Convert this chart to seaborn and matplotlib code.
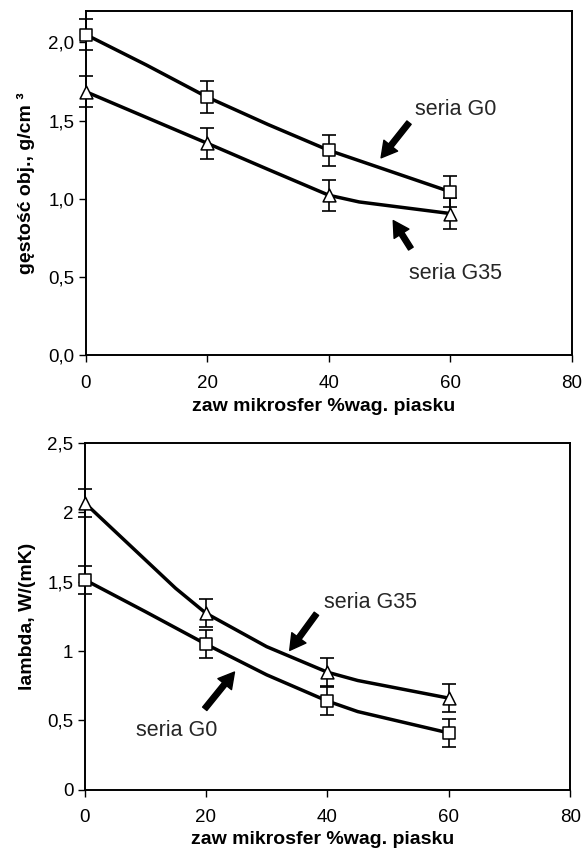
import matplotlib
matplotlib.use("Agg")
import matplotlib.pyplot as plt
import seaborn as sns
import numpy as np
import pandas as pd

# ---- data ----
x_pts = [0, 20, 40, 60]

# top panel: bulk density, g/cm3
dens_g0 = [2.05, 1.65, 1.31, 1.045]
dens_g35 = [1.685, 1.355, 1.023, 0.906]
dens_err = [0.1, 0.1, 0.1, 0.1]
# smoothed curve
dens_curve_x_g0 = [0, 10, 20, 30, 40, 48, 60]
dens_curve_g0 = [2.05, 1.855, 1.65, 1.475, 1.31, 1.204, 1.045]
dens_curve_x_g35 = [0, 10, 20, 30, 40, 45, 60]
dens_curve_g35 = [1.685, 1.52, 1.355, 1.188, 1.023, 0.98, 0.906]

# bottom panel: thermal conductivity, W/(mK)
lam_g0 = [1.515, 1.05, 0.64, 0.41]
lam_g35 = [2.07, 1.273, 0.848, 0.661]
lam_err = [0.1, 0.1, 0.1, 0.1]
lam_curve_x_g0 = [0, 10, 20, 30, 40, 45, 60]
lam_curve_g0 = [1.515, 1.285, 1.05, 0.829, 0.64, 0.564, 0.41]
lam_curve_x_g35 = [0, 15, 20, 30, 40, 45, 60]
lam_curve_g35 = [2.07, 1.453, 1.273, 1.032, 0.848, 0.788, 0.661]

x_ticks = [0, 20, 40, 60, 80]
x_ticklabels = ["0", "20", "40", "60", "80"]
dens_ticks = [0.0, 0.5, 1.0, 1.5, 2.0]
dens_ticklabels = ["0,0", "0,5", "1,0", "1,5", "2,0"]
lam_ticks = [0, 0.5, 1.0, 1.5, 2.0, 2.5]
lam_ticklabels = ["0", "0,5", "1", "1,5", "2", "2,5"]

xlabel = "zaw mikrosfer %wag. piasku"
dens_ylabel = "gęstość obj., g/cm ³"
lam_ylabel = "lambda, W/(mK)"

sns.set_theme(style="white")
plt.rcParams["font.family"] = ["Liberation Sans", "DejaVu Sans"]

fig = plt.figure(figsize=(5.83, 8.52), dpi=100)
ax1 = fig.add_axes([0.147, 0.583, 0.834, 0.404])
ax2 = fig.add_axes([0.145, 0.073, 0.833, 0.407])

LW = 2.5
TICK_FS = 13.5
LABEL_FS = 14
ANN_FS = 15.5


def draw(ax, cx0, cy0, cx1, cy1, y0, y1, err):
    sns.lineplot(x=cx0, y=cy0, ax=ax, color="black", lw=LW, sort=False, zorder=2)
    sns.lineplot(x=cx1, y=cy1, ax=ax, color="black", lw=LW, sort=False, zorder=2)
    for yy in (y0, y1):
        ax.errorbar(x_pts, yy, yerr=err, fmt="none", ecolor="black",
                    elinewidth=1.2, capsize=4.8, capthick=1.2, zorder=3,
                    clip_on=False)
    sns.scatterplot(x=x_pts, y=y0, ax=ax, marker="s", s=75, color="white",
                    edgecolor="black", linewidth=1.1, zorder=4, clip_on=False)
    sns.scatterplot(x=x_pts, y=y1, ax=ax, marker="^", s=85, color="white",
                    edgecolor="black", linewidth=1.1, zorder=4, clip_on=False)


draw(ax1, dens_curve_x_g0, dens_curve_g0, dens_curve_x_g35, dens_curve_g35,
     dens_g0, dens_g35, dens_err)
draw(ax2, lam_curve_x_g0, lam_curve_g0, lam_curve_x_g35, lam_curve_g35,
     lam_g0, lam_g35, lam_err)

for ax, yl, yt, ytl, ylim, ylx in (
        (ax1, dens_ylabel, dens_ticks, dens_ticklabels, (0, 2.2), -0.105),
        (ax2, lam_ylabel, lam_ticks, lam_ticklabels, (0, 2.5), -0.100)):
    ax.set_xlim(0, 80)
    ax.set_ylim(*ylim)
    ax.set_xticks(x_ticks)
    ax.set_xticklabels(x_ticklabels)
    ax.set_yticks(yt)
    ax.set_yticklabels(ytl)
    ax.tick_params(axis="both", which="both", direction="out", length=5,
                   width=1, color="black", labelsize=TICK_FS, labelcolor="black",
                   bottom=True, left=True, top=False, right=False)
    ax.tick_params(axis="x", pad=9)
    ax.tick_params(axis="y", pad=3)
    for sp in ax.spines.values():
        sp.set_visible(True)
        sp.set_color("black")
        sp.set_linewidth(1.4)
    ax.set_xlabel(xlabel, fontsize=LABEL_FS, fontweight="bold", color="black")
    ax.set_ylabel(yl, fontsize=LABEL_FS, fontweight="bold", color="black")
    ax.yaxis.set_label_coords(ylx, 0.5)
    ax.grid(False)
    ax.set_facecolor("white")

ax1.xaxis.set_label_coords(0.49, -0.125)
ax2.xaxis.set_label_coords(0.49, -0.118)

arrow = dict(arrowstyle="simple,head_length=0.8,head_width=0.9,tail_width=0.28",
             color="black", mutation_scale=14, shrinkA=0, shrinkB=0)

# top panel annotations
ax1.text(60.9, 1.573, "seria G0", fontsize=ANN_FS, ha="center", va="center")
ax1.annotate("", xy=(48.6, 1.262), xytext=(53.2, 1.487), arrowprops=arrow)
ax1.text(60.9, 0.521, "seria G35", fontsize=ANN_FS, ha="center", va="center")
ax1.annotate("", xy=(50.6, 0.861), xytext=(53.5, 0.682), arrowprops=arrow)

# bottom panel annotations
ax2.text(47.1, 1.353, "seria G35", fontsize=ANN_FS, ha="center", va="center")
ax2.annotate("", xy=(33.8, 1.005), xytext=(38.2, 1.269), arrowprops=arrow)
ax2.text(15.2, 0.428, "seria G0", fontsize=ANN_FS, ha="center", va="center")
ax2.annotate("", xy=(24.7, 0.849), xytext=(19.8, 0.584), arrowprops=arrow)

fig.savefig("out.png", dpi=100, facecolor="white")
